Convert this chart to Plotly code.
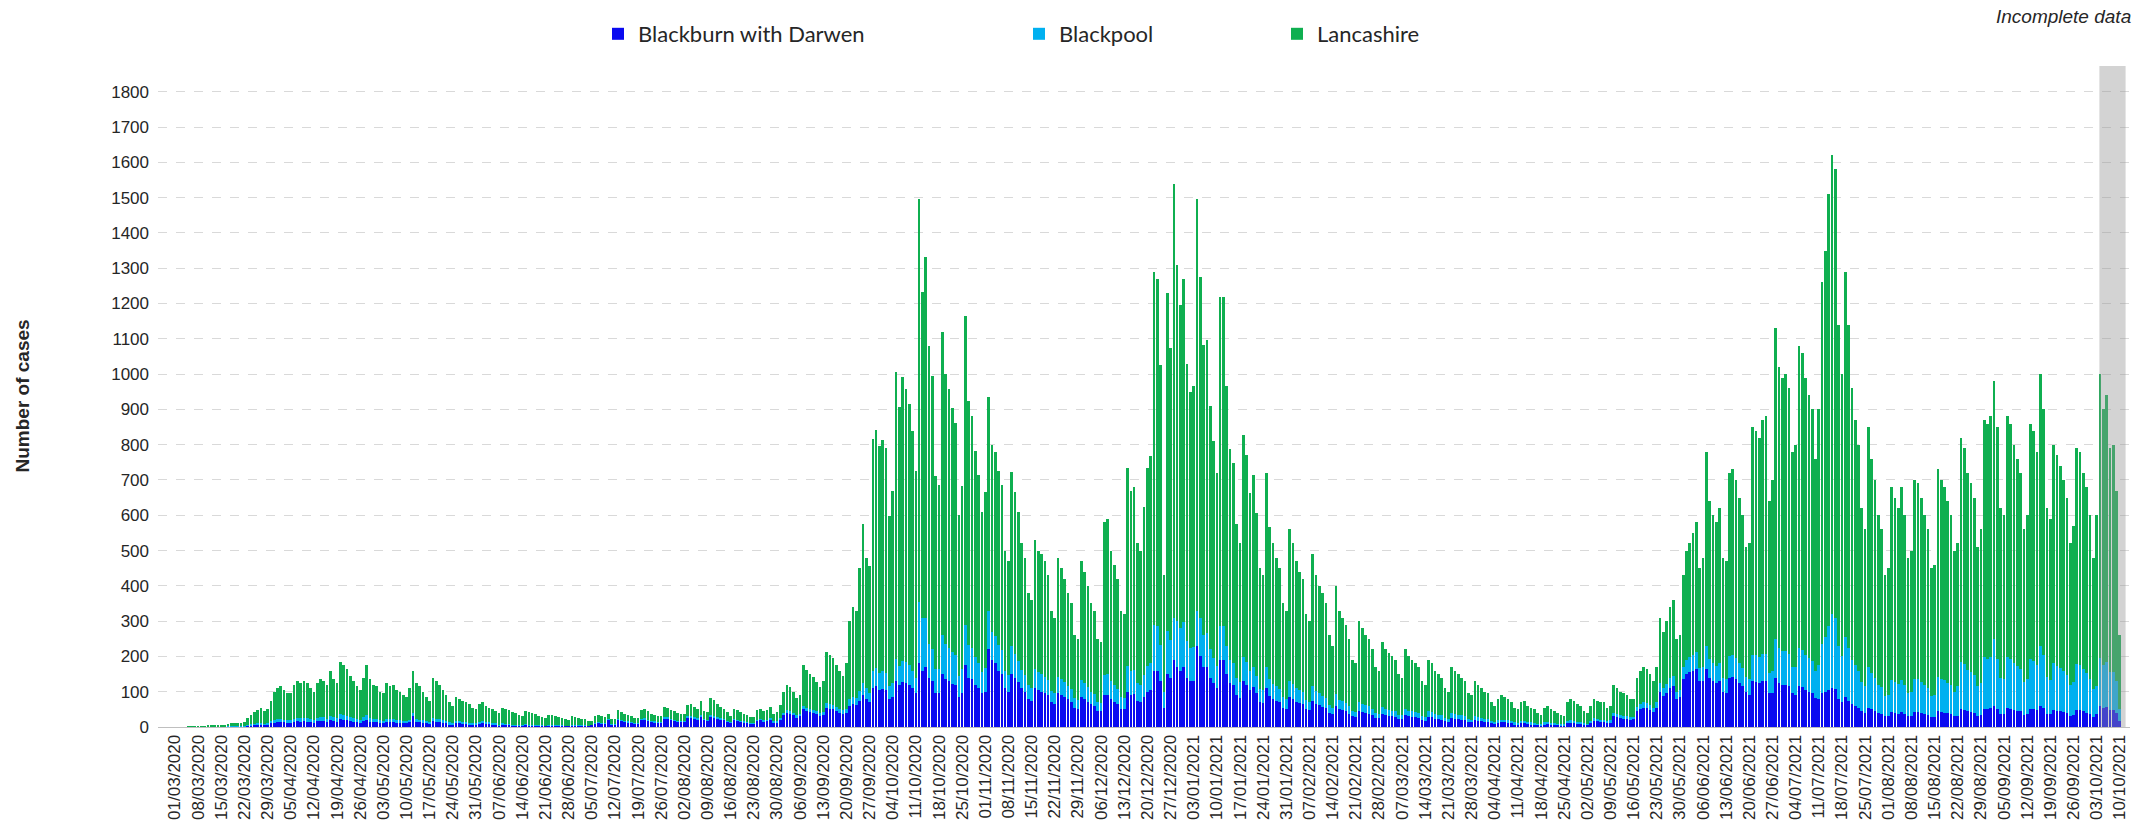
import pandas as pd
import plotly.graph_objects as go

START_DATE = "2020-03-01"

# Daily totals (top of each stack), one row per week, Sunday..Saturday
total_cases = [
    [0, 0, 0, 0, 1, 1, 1], [1, 2, 2, 3, 3, 4, 3], [4, 6, 8, 10, 12, 12, 10],
    [14, 25, 35, 42, 48, 55, 45], [50, 75, 100, 110, 115, 105, 95], [95, 120, 130, 125, 130, 125, 110],
    [100, 125, 135, 130, 120, 160, 135], [125, 185, 175, 165, 145, 130, 115], [105, 140, 175, 135, 120, 115, 100],
    [95, 125, 115, 120, 105, 100, 90], [85, 110, 160, 125, 115, 100, 85], [75, 140, 130, 120, 105, 90, 70],
    [60, 85, 80, 75, 70, 65, 55], [50, 65, 70, 60, 55, 50, 45], [40, 55, 50, 48, 42, 40, 35],
    [30, 45, 42, 40, 36, 32, 28], [25, 35, 33, 30, 28, 26, 22], [20, 30, 28, 26, 24, 22, 18],
    [18, 32, 35, 30, 28, 38, 22], [22, 48, 42, 38, 33, 30, 26], [26, 48, 52, 44, 38, 34, 30],
    [32, 58, 55, 48, 44, 40, 36], [36, 62, 66, 58, 52, 75, 46], [42, 82, 76, 64, 58, 52, 42],
    [32, 52, 48, 42, 38, 33, 28], [28, 48, 52, 44, 48, 58, 38], [42, 62, 100, 120, 112, 98, 82],
    [92, 175, 162, 150, 142, 128, 112], [130, 212, 205, 195, 175, 158, 145], [180, 300, 340, 330, 450, 574, 480],
    [455, 815, 843, 795, 812, 792, 597], [668, 1005, 906, 991, 957, 915, 838], [725, 1497, 1233, 1332, 1080, 995, 710],
    [687, 1119, 1000, 957, 903, 861, 602], [682, 1165, 923, 880, 781, 713, 608], [665, 935, 798, 778, 724, 685, 500],
    [470, 722, 665, 608, 520, 480, 380], [360, 530, 500, 490, 470, 430, 330], [310, 480, 450, 420, 380, 350, 260],
    [250, 470, 440, 400, 350, 330, 250], [240, 580, 588, 500, 460, 420, 330], [320, 733, 670, 679, 520, 500, 622],
    [733, 767, 1290, 1270, 1026, 430, 1230], [1073, 1540, 1310, 1196, 1270, 1030, 949], [966, 1495, 1275, 1082, 1097, 909, 810],
    [721, 1219, 1219, 966, 789, 747, 574], [520, 827, 770, 664, 713, 605, 450], [430, 719, 568, 520, 480, 450, 350],
    [330, 560, 520, 470, 440, 420, 320], [300, 490, 430, 400, 380, 350, 260], [230, 400, 330, 310, 290, 250, 190],
    [180, 300, 280, 260, 250, 220, 170], [160, 240, 220, 210, 200, 190, 150], [140, 220, 200, 190, 180, 170, 130],
    [120, 190, 180, 160, 150, 140, 110], [100, 170, 160, 150, 140, 130, 95], [90, 130, 120, 110, 100, 95, 70],
    [60, 80, 90, 85, 80, 70, 55], [50, 70, 75, 60, 55, 50, 40], [35, 55, 60, 50, 45, 40, 35],
    [30, 70, 80, 75, 65, 60, 45], [40, 60, 80, 75, 70, 70, 55], [60, 120, 110, 100, 95, 90, 80],
    [80, 140, 160, 170, 165, 150, 130], [170, 310, 270, 300, 340, 360, 250], [260, 430, 500, 520, 550, 580, 450],
    [480, 780, 640, 600, 580, 620, 480], [470, 720, 730, 700, 650, 600, 510], [520, 850, 840, 820, 870, 880, 640],
    [700, 1130, 1020, 990, 1000, 960, 780], [800, 1080, 1060, 990, 940, 900, 760], [900, 1260, 1350, 1510, 1620, 1580, 1140],
    [1000, 1290, 1140, 960, 870, 800, 620], [560, 850, 760, 700, 600, 560, 430], [450, 680, 650, 620, 680, 600, 480],
    [500, 700, 690, 650, 600, 560, 450], [460, 730, 700, 680, 640, 600, 500], [520, 820, 790, 720, 690, 650, 510],
    [560, 870, 860, 880, 980, 850, 620], [600, 880, 860, 800, 760, 720, 560], [600, 860, 840, 780, 1000, 900, 620],
    [590, 800, 770, 740, 700, 650, 520], [570, 790, 780, 720, 680, 600, 480], [600, 1000, 900, 940, 790, 800, 670],
    [260],
]

blackburn_with_darwen = [
    [0, 0, 0, 0, 0, 0, 0], [0, 0, 0, 0, 0, 1, 0], [0, 1, 1, 2, 2, 2, 1],
    [2, 4, 5, 6, 7, 8, 6], [7, 10, 12, 14, 14, 13, 12], [12, 15, 16, 15, 16, 15, 13],
    [12, 16, 18, 17, 15, 20, 17], [15, 22, 20, 19, 17, 15, 13], [12, 16, 20, 15, 14, 13, 12],
    [11, 15, 14, 14, 12, 12, 10], [10, 13, 30, 14, 13, 12, 10], [9, 16, 15, 14, 12, 10, 8],
    [8, 12, 11, 10, 9, 8, 7], [7, 10, 12, 10, 9, 8, 7], [5, 7, 6, 6, 5, 5, 4],
    [4, 6, 5, 5, 5, 4, 4], [3, 5, 5, 4, 4, 4, 3], [3, 5, 5, 4, 4, 4, 3],
    [6, 10, 12, 10, 10, 20, 8], [8, 20, 18, 16, 14, 13, 11], [11, 20, 22, 18, 16, 14, 12],
    [13, 25, 24, 20, 18, 16, 15], [15, 27, 28, 25, 22, 30, 20], [18, 30, 28, 25, 22, 20, 16],
    [12, 20, 18, 16, 14, 12, 10], [10, 18, 20, 16, 18, 22, 14], [14, 22, 35, 40, 38, 33, 28],
    [30, 50, 45, 42, 40, 36, 32], [35, 55, 52, 50, 45, 40, 38], [40, 60, 65, 62, 75, 90, 80],
    [70, 110, 115, 105, 108, 105, 80], [85, 130, 118, 128, 125, 120, 110], [95, 180, 160, 170, 140, 130, 95],
    [95, 150, 135, 130, 122, 118, 85], [95, 175, 140, 135, 120, 110, 95], [100, 220, 190, 180, 160, 150, 110],
    [100, 150, 140, 128, 110, 100, 80], [75, 110, 105, 100, 95, 90, 70], [65, 95, 90, 85, 78, 72, 55],
    [52, 85, 80, 72, 64, 60, 46], [44, 90, 92, 80, 72, 66, 52], [50, 100, 92, 94, 74, 70, 86],
    [100, 105, 160, 158, 130, 55, 150], [140, 190, 170, 160, 170, 140, 130], [130, 230, 200, 170, 170, 140, 125],
    [110, 190, 190, 150, 125, 118, 90], [82, 130, 120, 105, 112, 95, 72], [68, 110, 88, 80, 75, 70, 55],
    [52, 85, 80, 72, 68, 65, 50], [47, 75, 66, 62, 58, 54, 40], [36, 60, 50, 48, 45, 38, 30],
    [28, 45, 42, 40, 38, 34, 26], [25, 36, 33, 32, 30, 29, 23], [22, 33, 30, 29, 27, 26, 20],
    [18, 29, 27, 24, 23, 21, 17], [15, 26, 24, 23, 21, 20, 14], [14, 20, 18, 17, 15, 14, 11],
    [9, 12, 14, 13, 12, 11, 8], [8, 11, 11, 9, 8, 8, 6], [5, 8, 9, 8, 7, 6, 5],
    [5, 10, 12, 11, 10, 9, 7], [6, 12, 18, 16, 15, 15, 12], [14, 30, 28, 25, 24, 23, 20],
    [22, 45, 52, 55, 53, 48, 42], [55, 100, 88, 97, 110, 115, 80], [84, 135, 150, 155, 160, 165, 130],
    [130, 165, 140, 130, 125, 130, 100], [95, 140, 142, 135, 125, 115, 98], [90, 130, 128, 125, 130, 130, 95],
    [95, 140, 125, 120, 120, 115, 95], [90, 115, 112, 105, 100, 95, 82], [80, 95, 100, 105, 110, 108, 80],
    [70, 85, 75, 65, 60, 55, 45], [40, 55, 50, 46, 40, 38, 30], [30, 42, 40, 38, 42, 38, 30],
    [30, 42, 42, 40, 37, 35, 28], [28, 44, 42, 41, 39, 37, 30], [32, 50, 48, 44, 42, 40, 32],
    [34, 52, 52, 53, 60, 52, 38], [36, 53, 52, 48, 46, 44, 34], [36, 52, 50, 47, 60, 54, 38],
    [36, 48, 46, 45, 42, 40, 32], [34, 48, 47, 44, 41, 37, 29], [36, 60, 55, 57, 48, 48, 40],
    [16],
]

blackpool = [
    [0, 0, 0, 0, 0, 0, 0], [0, 0, 0, 0, 0, 0, 0], [0, 0, 1, 1, 1, 1, 1],
    [1, 2, 3, 3, 4, 4, 3], [4, 6, 8, 8, 9, 8, 7], [7, 9, 10, 10, 10, 10, 9],
    [8, 10, 11, 10, 9, 12, 10], [10, 14, 13, 12, 11, 10, 9], [8, 11, 13, 10, 9, 9, 8],
    [7, 9, 8, 9, 8, 8, 7], [6, 8, 10, 9, 8, 7, 6], [5, 9, 9, 8, 7, 6, 5],
    [4, 6, 6, 5, 5, 4, 4], [3, 4, 5, 4, 4, 3, 3], [2, 3, 3, 3, 2, 2, 2],
    [2, 3, 2, 2, 2, 2, 1], [1, 2, 2, 2, 1, 1, 1], [1, 2, 1, 1, 1, 1, 1],
    [1, 2, 2, 2, 1, 2, 1], [1, 3, 2, 2, 2, 2, 1], [1, 3, 3, 2, 2, 2, 2],
    [2, 3, 3, 3, 2, 2, 2], [2, 4, 4, 3, 3, 4, 3], [2, 5, 4, 4, 3, 3, 2],
    [2, 3, 3, 2, 2, 2, 2], [2, 3, 3, 3, 3, 3, 2], [3, 4, 6, 7, 7, 6, 5],
    [6, 10, 10, 9, 9, 8, 7], [8, 13, 13, 12, 11, 10, 9], [11, 18, 20, 20, 27, 34, 30],
    [27, 50, 52, 48, 50, 48, 36], [40, 62, 56, 60, 58, 56, 50], [45, 175, 150, 140, 95, 90, 70],
    [68, 110, 100, 95, 90, 85, 60], [68, 115, 92, 88, 78, 71, 60], [66, 110, 80, 78, 72, 68, 50],
    [47, 80, 66, 60, 52, 48, 38], [36, 53, 50, 49, 47, 43, 33], [31, 48, 45, 42, 38, 35, 26],
    [25, 47, 44, 40, 35, 33, 25], [24, 58, 59, 50, 46, 42, 33], [32, 73, 67, 68, 52, 50, 62],
    [73, 77, 129, 127, 103, 43, 123], [107, 120, 131, 120, 127, 103, 95], [97, 100, 110, 90, 95, 80, 70],
    [62, 95, 95, 80, 65, 62, 48], [45, 68, 64, 55, 59, 50, 37], [36, 59, 47, 43, 40, 37, 29],
    [27, 46, 43, 39, 36, 35, 26], [25, 40, 35, 33, 31, 29, 21], [19, 33, 27, 25, 24, 21, 16],
    [15, 25, 23, 21, 21, 18, 14], [13, 20, 18, 17, 16, 16, 12], [12, 18, 16, 16, 15, 14, 11],
    [10, 16, 15, 13, 12, 12, 9], [8, 14, 13, 12, 12, 11, 8], [7, 11, 10, 9, 8, 8, 6],
    [5, 7, 7, 7, 7, 6, 5], [4, 6, 6, 5, 5, 4, 3], [3, 5, 5, 4, 4, 3, 3],
    [3, 6, 7, 6, 5, 5, 4], [3, 5, 7, 6, 6, 6, 5], [5, 10, 9, 8, 8, 8, 7],
    [7, 12, 14, 15, 14, 13, 11], [15, 25, 22, 25, 28, 30, 20], [22, 35, 40, 42, 45, 48, 37],
    [40, 65, 52, 50, 48, 52, 40], [40, 62, 63, 60, 56, 52, 44], [46, 75, 75, 72, 77, 78, 57],
    [65, 108, 98, 95, 96, 92, 75], [80, 108, 106, 100, 95, 92, 78], [95, 140, 155, 180, 210, 200, 150],
    [130, 170, 150, 126, 115, 105, 82], [75, 115, 102, 94, 80, 75, 57], [60, 92, 88, 84, 92, 81, 65],
    [68, 95, 94, 88, 81, 76, 61], [62, 99, 95, 92, 87, 81, 68], [85, 135, 130, 118, 113, 107, 84],
    [92, 145, 142, 146, 190, 140, 102], [99, 146, 142, 132, 126, 119, 93], [99, 142, 138, 128, 170, 150, 103],
    [98, 132, 127, 122, 116, 108, 86], [94, 131, 128, 119, 113, 99, 80], [81, 135, 122, 127, 107, 108, 90],
    [35],
]

series_names = ["Blackburn with Darwen", "Blackpool", "Lancashire"]
series_colors = ["#0A0AF0", "#00B0F0", "#0FAF50"]
incomplete_start = "2021-10-03 20:00"
incomplete_end = "2021-10-11 18:00"

tot = [v for w in total_cases for v in w]
bbd = [v for w in blackburn_with_darwen for v in w]
bpl = [v for w in blackpool for v in w]
lanc = [max(t - a - b, 0) for t, a, b in zip(tot, bbd, bpl)]
dates = pd.date_range(START_DATE, periods=len(tot), freq="D")

W, H = 2147, 838
ML, MR, MT, MB = 158, 17, 66, 111

fig = go.Figure()
legends = ["legend", "legend2", "legend3"]
for name, vals, col, lg in zip(series_names, [bbd, bpl, lanc], series_colors, legends):
    fig.add_trace(go.Bar(x=dates, y=vals, name=name, marker_color=col,
                         marker_line_width=0, legend=lg))

leg_font = dict(family="Lato, 'Open Sans', sans-serif", size=22, color="#262626")
leg_x = [598, 1019, 1277]
leg_common = dict(orientation="h", xref="container", yref="container", y=1 - 34 / H,
                  yanchor="middle", xanchor="left", font=leg_font, bgcolor="rgba(0,0,0,0)")

fig.update_layout(
    width=W, height=H,
    margin=dict(l=ML, r=MR, t=MT, b=MB),
    paper_bgcolor="white", plot_bgcolor="white",
    barmode="stack", bargap=0.2,
    showlegend=True,
    legend=dict(x=leg_x[0] / W, **leg_common),
    legend2=dict(x=leg_x[1] / W, **leg_common),
    legend3=dict(x=leg_x[2] / W, **leg_common),
    font=dict(family="Liberation Sans, Arial, sans-serif", color="#262626"),
)

fig.update_xaxes(
    type="date",
    range=["2020-02-24 21:00", "2021-10-13 02:00"],
    tick0=START_DATE, dtick=7 * 86400000, tickformat="%d/%m/%Y",
    tickangle=-90, tickfont=dict(size=17, color="#262626"),
    showgrid=False, showline=True, linecolor="#BFBFBF", linewidth=1,
    ticks="", zeroline=False,
)
fig.update_yaxes(
    range=[0, 1873], tick0=0, dtick=100,
    tickfont=dict(size=17, color="#262626"),
    showgrid=True, gridcolor="#D9D9D9", gridwidth=1, griddash="dash",
    zeroline=False, showline=False, ticks="", ticklabelstandoff=8,
)

fig.add_shape(type="rect", xref="x", yref="paper",
              x0=incomplete_start, x1=incomplete_end, y0=0, y1=1,
              fillcolor="rgba(150,150,150,0.42)", line_width=0, layer="above")

plot_w = W - ML - MR
plot_h = H - MT - MB
fig.add_annotation(text="Incomplete data", xref="paper", yref="paper",
                   x=(2133 - ML) / plot_w, y=(H - MB - 17) / plot_h,
                   xanchor="right", yanchor="middle", showarrow=False,
                   font=dict(family="Liberation Sans, Arial, sans-serif", size=19,
                             color="#262626", style="italic"))
fig.add_annotation(text="<b>Number of cases</b>", xref="paper", yref="paper",
                   x=(22 - ML) / plot_w, y=0.5, textangle=-90,
                   xanchor="center", yanchor="middle", showarrow=False,
                   font=dict(family="Liberation Sans, Arial, sans-serif", size=19,
                             color="#262626"))

fig.write_html("out.html", config={"displayModeBar": False},
               post_script="document.body.style.margin='0';document.body.style.overflow='hidden';")
